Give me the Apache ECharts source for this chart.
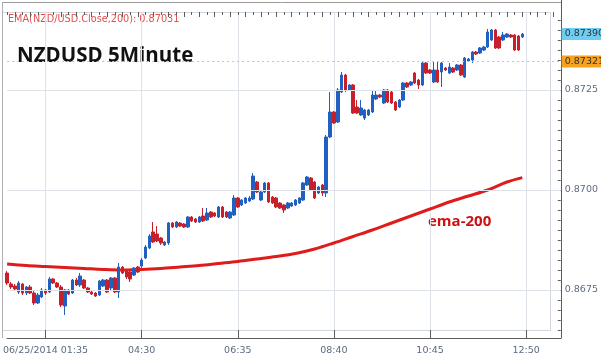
<!DOCTYPE html>
<html>
<head>
<meta charset="utf-8">
<script src="https://cdn.jsdelivr.net/npm/echarts@6/dist/echarts.min.js"></script>
<style>
html,body{margin:0;padding:0;background:#fff;}
#c{width:601px;height:364px;}
</style>
</head>
<body>
<div id="c"></div>
<script>
// ---- data ----
const tickLabels = ['06/25/2014 01:35', '04:30', '06:35', '08:40', '10:45', '12:50'];
const tickIndex = [10, 35, 60, 85, 110, 135];
const slotCount = 145;
const yLabels = [0.8675, 0.8700, 0.8725];
const lastPrice = 0.87390;
const refPrice = 0.87321;
const emaLastText = 'EMA(NZD/USD.Close,200): 0.87031';

// [open, close, low, high]
const ohlc = [
[0.867925,0.867675,0.867625,0.867975],
[0.867650,0.867575,0.867525,0.867700],
[0.867600,0.867525,0.867475,0.867650],
[0.867450,0.867675,0.867400,0.867725],
[0.867650,0.867425,0.867375,0.867675],
[0.867425,0.867575,0.867375,0.867600],
[0.867575,0.867425,0.867400,0.867625],
[0.867425,0.867175,0.867125,0.867475],
[0.867175,0.867375,0.867150,0.867425],
[0.867325,0.867500,0.867300,0.867550],
[0.867500,0.867425,0.867375,0.867525],
[0.867450,0.867775,0.867425,0.867825],
[0.867775,0.867675,0.867650,0.867800],
[0.867675,0.867575,0.867550,0.867700],
[0.867575,0.867125,0.867075,0.867625],
[0.867100,0.867500,0.866875,0.867525],
[0.867500,0.867400,0.867375,0.867525],
[0.867425,0.867750,0.867400,0.867775],
[0.867750,0.867625,0.867600,0.867800],
[0.867625,0.867850,0.867575,0.867925],
[0.867750,0.867550,0.867525,0.867775],
[0.867550,0.867450,0.867425,0.867575],
[0.867450,0.867400,0.867375,0.867475],
[0.867425,0.867350,0.867325,0.867450],
[0.867375,0.867725,0.867350,0.867750],
[0.867600,0.867750,0.867575,0.867775],
[0.867750,0.867450,0.867425,0.867775],
[0.867550,0.867800,0.867500,0.867825],
[0.867800,0.867450,0.867425,0.867825],
[0.867450,0.868075,0.867300,0.868175],
[0.868075,0.867925,0.867900,0.868100],
[0.867975,0.867825,0.867775,0.868000],
[0.867950,0.867775,0.867700,0.867975],
[0.867875,0.868050,0.867850,0.868075],
[0.868075,0.867950,0.867925,0.868100],
[0.868100,0.868250,0.868050,0.868300],
[0.868300,0.868575,0.868275,0.868625],
[0.868550,0.868850,0.868525,0.868900],
[0.868950,0.868700,0.868675,0.869200],
[0.868900,0.868725,0.868700,0.869100],
[0.868800,0.868675,0.868625,0.868825],
[0.868625,0.868700,0.868600,0.868725],
[0.868675,0.869175,0.868625,0.869200],
[0.869175,0.869075,0.869050,0.869200],
[0.869075,0.869200,0.869050,0.869225],
[0.869175,0.869100,0.869075,0.869200],
[0.869150,0.869075,0.869050,0.869175],
[0.869075,0.869325,0.869050,0.869350],
[0.869325,0.869225,0.869200,0.869350],
[0.869275,0.869200,0.869175,0.869300],
[0.869200,0.869325,0.869175,0.869350],
[0.869350,0.869225,0.869200,0.869550],
[0.869250,0.869425,0.869225,0.869550],
[0.869450,0.869325,0.869300,0.869475],
[0.869425,0.869350,0.869325,0.869450],
[0.869325,0.869575,0.869300,0.869600],
[0.869575,0.869325,0.869300,0.869600],
[0.869450,0.869325,0.869300,0.869475],
[0.869300,0.869450,0.869275,0.869475],
[0.869375,0.869800,0.869350,0.869875],
[0.869800,0.869575,0.869550,0.869825],
[0.869625,0.869750,0.869600,0.869775],
[0.869675,0.869800,0.869650,0.869825],
[0.869725,0.869800,0.869700,0.869850],
[0.869775,0.870350,0.869750,0.870425],
[0.870200,0.869950,0.869925,0.870225],
[0.869750,0.869950,0.869725,0.869975],
[0.869950,0.870175,0.869925,0.870200],
[0.870175,0.869700,0.869675,0.870200],
[0.869825,0.869675,0.869650,0.869850],
[0.869800,0.869575,0.869550,0.869825],
[0.869675,0.869550,0.869525,0.869700],
[0.869625,0.869500,0.869425,0.869650],
[0.869550,0.869675,0.869525,0.869700],
[0.869600,0.869675,0.869575,0.869700],
[0.869625,0.869750,0.869600,0.869775],
[0.869675,0.869800,0.869650,0.869825],
[0.869750,0.870175,0.869725,0.870200],
[0.870125,0.870325,0.870100,0.870350],
[0.870300,0.870000,0.869975,0.870325],
[0.870200,0.869800,0.869775,0.870225],
[0.869925,0.870075,0.869900,0.870100],
[0.870125,0.869925,0.869850,0.870150],
[0.869925,0.871325,0.869825,0.871375],
[0.871325,0.871950,0.871300,0.872450],
[0.871950,0.871675,0.871650,0.871975],
[0.871700,0.872500,0.871675,0.872550],
[0.872450,0.872875,0.872425,0.872950],
[0.872875,0.872500,0.872450,0.872900],
[0.872500,0.872625,0.872475,0.872650],
[0.872625,0.871925,0.871900,0.872650],
[0.872075,0.871925,0.871900,0.872250],
[0.871875,0.872050,0.871850,0.872250],
[0.871800,0.872000,0.871750,0.872025],
[0.871875,0.872000,0.871850,0.872025],
[0.871950,0.872375,0.871925,0.872500],
[0.872275,0.872375,0.872250,0.872500],
[0.872375,0.872325,0.872300,0.872400],
[0.872175,0.872500,0.872150,0.872525],
[0.872500,0.872200,0.872175,0.872525],
[0.872450,0.872175,0.872150,0.872475],
[0.872200,0.872000,0.871975,0.872225],
[0.872075,0.872250,0.872050,0.872275],
[0.872250,0.872675,0.872225,0.872700],
[0.872675,0.872575,0.872550,0.872700],
[0.872625,0.872700,0.872600,0.872725],
[0.872925,0.872675,0.872650,0.872950],
[0.872750,0.872625,0.872525,0.872775],
[0.872625,0.873175,0.872600,0.873200],
[0.873175,0.872925,0.872900,0.873200],
[0.873000,0.872925,0.872900,0.873025],
[0.872700,0.873000,0.872675,0.873200],
[0.873000,0.872700,0.872675,0.873200],
[0.872950,0.873175,0.872575,0.873200],
[0.873050,0.873000,0.872975,0.873075],
[0.872925,0.873075,0.872900,0.873175],
[0.873050,0.872950,0.872925,0.873075],
[0.873000,0.873125,0.872975,0.873150],
[0.873125,0.872875,0.872850,0.873150],
[0.872825,0.873300,0.872800,0.873325],
[0.873225,0.873275,0.873200,0.873300],
[0.873250,0.873450,0.873175,0.873475],
[0.873450,0.873400,0.873375,0.873475],
[0.873425,0.873550,0.873400,0.873575],
[0.873500,0.873575,0.873475,0.873600],
[0.873575,0.873950,0.873550,0.874025],
[0.873750,0.874000,0.873725,0.874025],
[0.874000,0.873550,0.873525,0.874025],
[0.873825,0.873550,0.873525,0.873850],
[0.873750,0.873875,0.873725,0.873950],
[0.873825,0.873900,0.873800,0.873925],
[0.873875,0.873825,0.873800,0.873900],
[0.873875,0.873500,0.873475,0.873900],
[0.873850,0.873500,0.873475,0.873875],
[0.873825,0.873900,0.873800,0.873925]
];

// EMA(200) read at selected candles
const emaIdx = [0,5,10,15,20,25,30,35,40,45,50,55,60,65,70,75,80,85,90,95,100,105,110,115,120,125,130,134];
const emaVal = [0.86815,0.868113,0.868088,0.868063,0.868038,0.868013,0.868,0.868013,0.868038,0.868075,0.868113,0.868163,0.868213,0.868275,0.868338,0.868413,0.868525,0.868675,0.868838,0.869,0.869175,0.86935,0.869525,0.8697,0.86985,0.87,0.8702,0.87031];

// ---- build ----
const categories = [];
for (let i = 0; i < slotCount; i++) categories.push(String(i));
const emaData = categories.map(() => null);
emaIdx.forEach((k, j) => { emaData[k] = emaVal[j]; });

const isMajor = (idx) => tickIndex.indexOf(idx) >= 0;
const minorTicks = [];
for (let k = 0; k <= 32; k++) minorTicks.push(+(0.8665 + k * 0.00025).toFixed(5));

const axisColor = '#5c5c5c';
const labelColor = '#5d6a82';
const gridColor = '#dde2e8';

const tag = (v, bg) => ({
  yAxis: v,
  lineStyle: {color: 'rgba(255,255,255,0)', width: 1, type: 'solid'},
  label: {show: true, position: 'end', distance: 1, formatter: v.toFixed(5),
    backgroundColor: bg, color: '#333', fontSize: 9.5, padding: [1, 3, 1, 3], fontFamily: 'DejaVu Sans'}
});

const chart = echarts.init(document.getElementById('c'), null, {renderer: 'canvas'});
chart.setOption({
  animation: false,
  textStyle: {fontFamily: 'DejaVu Sans'},
  grid: {left: 2, right: 40, top: 12, bottom: 26},
  xAxis: [
    {
      type: 'category', data: categories, boundaryGap: false,
      axisLine: {lineStyle: {color: axisColor}},
      axisTick: {interval: (i) => isMajor(i), inside: true, length: 8, lineStyle: {color: axisColor}},
      axisLabel: {interval: (i) => isMajor(i), formatter: (v, i) => tickLabels[tickIndex.indexOf(Number(v))] || '',
        color: labelColor, fontSize: 9.5, margin: 8, fontFamily: 'DejaVu Sans'},
      splitLine: {show: true, interval: (i) => isMajor(i), lineStyle: {color: gridColor}}
    },
    {
      type: 'category', data: categories, boundaryGap: false,
      axisLine: {show: false},
      axisTick: {interval: (i) => (i - 10) % 4 === 0 && !isMajor(i), inside: true, length: 5, lineStyle: {color: axisColor}},
      axisLabel: {show: false}, splitLine: {show: false}
    },
    {
      type: 'category', data: categories, boundaryGap: false,
      axisLine: {show: false},
      axisTick: {interval: (i) => ((i - 10) % 4 === 2 || (i - 10) % 4 === -2), inside: true, length: 3, lineStyle: {color: axisColor}},
      axisLabel: {show: false}, splitLine: {show: false}
    }
  ],
  yAxis: [
    {
      type: 'value', position: 'right', min: 0.8663, max: 0.87445, scale: true,
      axisLine: {show: true, lineStyle: {color: axisColor}},
      axisTick: {show: true, customValues: yLabels, inside: true, length: 11, lineStyle: {color: axisColor}},
      axisLabel: {customValues: yLabels, formatter: (v) => v.toFixed(4), color: labelColor, fontSize: 9.5, margin: 4, fontFamily: 'DejaVu Sans'},
      splitLine: {show: false}
    },
    {
      type: 'value', position: 'right', min: 0.8663, max: 0.87445, scale: true,
      axisLine: {show: false},
      axisTick: {show: true, customValues: minorTicks, inside: true, length: 3, lineStyle: {color: axisColor}},
      axisLabel: {show: false},
      splitLine: {show: false}
    }
  ],
  series: [
    {
      type: 'line', data: emaData, connectNulls: true, smooth: 0.35, symbol: 'none',
      lineStyle: {color: '#e01b1b', width: 3}, z: 2, silent: true,
      markLine: {
        silent: true, precision: 6, symbol: ['none', 'none'], label: {show: false},
        lineStyle: {color: gridColor, type: 'solid', width: 1},
        data: yLabels.map(v => ({yAxis: v, label: {show: false}})).concat([
          {yAxis: refPrice, lineStyle: {color: '#c4c4c4', type: [2, 3], width: 1}, label: {show: false}}
        ])
      }
    },
    {
      type: 'candlestick', data: ohlc, barWidth: 3, z: 3,
      itemStyle: {color: '#2160c0', color0: '#c8202a', borderColor: '#2160c0', borderColor0: '#c8202a', borderWidth: 1}
    },
    {
      type: 'line', data: [], symbol: 'none', silent: true, z: 5,
      markLine: {
        silent: true, precision: 6, symbol: ['none', 'none'],
        data: [tag(refPrice, '#f6a21e'), tag(lastPrice, '#6fcdf2')]
      }
    }
  ],
  graphic: [
    {type: 'line', shape: {x1: 2, y1: 2.5, x2: 561, y2: 2.5}, style: {stroke: '#9a9a9a', lineWidth: 1}, silent: true},
    {type: 'line', shape: {x1: 2.5, y1: 2, x2: 2.5, y2: 338}, style: {stroke: '#b0b0b0', lineWidth: 1}, silent: true},
    {type: 'line', shape: {x1: 561.5, y1: 0, x2: 561.5, y2: 12}, style: {stroke: axisColor, lineWidth: 1}, silent: true},
    {type: 'rect', shape: {x: 2.5, y: 12.5, width: 548, height: 318}, style: {fill: 'none', stroke: '#cfd6de', lineWidth: 1}, silent: true, z: -1},
    {type: 'text', left: 8, top: 14, style: {text: emaLastText, fill: '#e0504a', font: 'normal 9.7px "DejaVu Sans"'}},
    {type: 'text', left: 17, top: 46, style: {text: 'NZDUSD 5Minute', fill: '#111111', font: 'bold 20.5px "Open Sans"'}},
    {type: 'text', left: 428, top: 214, style: {text: 'ema-200', fill: '#cc1111', font: 'bold 15px "Open Sans"'}}
  ]
});
</script>
</body>
</html>
